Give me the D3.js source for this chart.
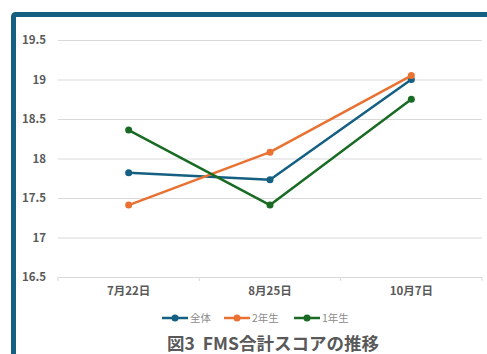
<!DOCTYPE html>
<meta charset="utf-8">
<style>
body { margin: 0; background: #fff; }
text { font-family: "Noto Sans CJK JP", "Noto Sans", sans-serif; }
.tick text { fill: #595959; font-weight: 700; font-size: 11.5px; }
.grid line { stroke: #d9d9d9; stroke-width: 1; }
path.domain { display: none; }
</style>
<body>
<script src="https://cdn.jsdelivr.net/npm/d3@7"></script>
<script>

// data
var dates = ["7月22日", "8月25日", "10月7日"];
var seriesNames = ["全体", "2年生", "1年生"];
var zentai = [17.82, 17.73, 19.0];
var nen2 = [17.41, 18.08, 19.05];
var nen1 = [18.36, 17.41, 18.75];
var yTicks = [16.5, 17, 17.5, 18, 18.5, 19, 19.5];
var colors = ["#156082", "#e97132", "#196b24"];
var title = "図3  FMS合計スコアの推移";

var W = 487, H = 354;
var margin = {top: 40, left: 58, right: 5, bottom: 77};
var width = W - margin.left - margin.right,
    height = H - margin.top - margin.bottom;

var svg = d3.select("body").append("svg")
    .attr("width", W)
    .attr("height", H);

// chart frame (only left/top visible)
svg.append("rect")
    .attr("x", 13.5).attr("y", 14.5)
    .attr("width", 700).attr("height", 700)
    .attr("rx", 2)
    .attr("fill", "none")
    .attr("stroke", "#156082")
    .attr("stroke-width", 5);

var g = svg.append("g")
    .attr("transform", "translate(" + margin.left + "," + margin.top + ")");

var x = d3.scaleBand().domain(dates).range([0, width]);
var y = d3.scaleLinear().domain([16.5, 19.5]).range([height, 0]);

// horizontal gridlines
g.append("g")
    .attr("class", "grid")
    .call(d3.axisLeft(y).tickValues(yTicks).tickSize(-width).tickFormat(""));

// y labels
g.append("g")
    .call(d3.axisLeft(y).tickValues(yTicks).tickSize(0).tickPadding(12)
        .tickFormat(function(d) { return d; }));

// x axis labels
g.append("g")
    .attr("transform", "translate(0," + height + ")")
    .call(d3.axisBottom(x).tickSize(0).tickPadding(10));

// category boundary ticks
var bounds = dates.map(function(d) { return x(d); }).concat([width]);
g.selectAll(".btick")
    .data(bounds)
    .enter().append("line")
    .attr("x1", function(d) { return d; })
    .attr("x2", function(d) { return d; })
    .attr("y1", height).attr("y2", height + 4)
    .attr("stroke", "#d9d9d9");

var series = [zentai, nen2, nen1];
var cx = function(i) { return x(dates[i]) + x.bandwidth() / 2; };
var line = d3.line()
    .x(function(d, i) { return cx(i); })
    .y(function(d) { return y(d); });

series.forEach(function(s, k) {
  g.append("path")
      .datum(s)
      .attr("fill", "none")
      .attr("stroke", colors[k])
      .attr("stroke-width", 2.5)
      .attr("stroke-linejoin", "round")
      .attr("d", line);
  g.selectAll(".m" + k)
      .data(s)
      .enter().append("circle")
      .attr("cx", function(d, i) { return cx(i); })
      .attr("cy", function(d) { return y(d); })
      .attr("r", 3.5)
      .attr("fill", colors[k]);
});

// legend
var legX = [162, 224, 294];
var legY = 318;
var leg = svg.selectAll(".leg")
    .data(seriesNames)
    .enter().append("g")
    .attr("transform", function(d, i) { return "translate(" + legX[i] + "," + legY + ")"; });
leg.append("line")
    .attr("x1", 0).attr("x2", 26)
    .attr("stroke", function(d, i) { return colors[i]; })
    .attr("stroke-width", 2.5);
leg.append("circle")
    .attr("cx", 13).attr("r", 3.5)
    .attr("fill", function(d, i) { return colors[i]; });
leg.append("text")
    .attr("x", 28).attr("dy", "0.35em")
    .attr("fill", "#8c8c8c")
    .style("font-size", "10.5px")
    .text(function(d) { return d; });

// title
svg.append("text")
    .attr("x", 273).attr("y", 350)
    .attr("text-anchor", "middle")
    .attr("fill", "#595959")
    .style("font-size", "17.5px")
    .style("font-weight", "700")
    .style("white-space", "pre")
    .text(title);
</script>
</body>
